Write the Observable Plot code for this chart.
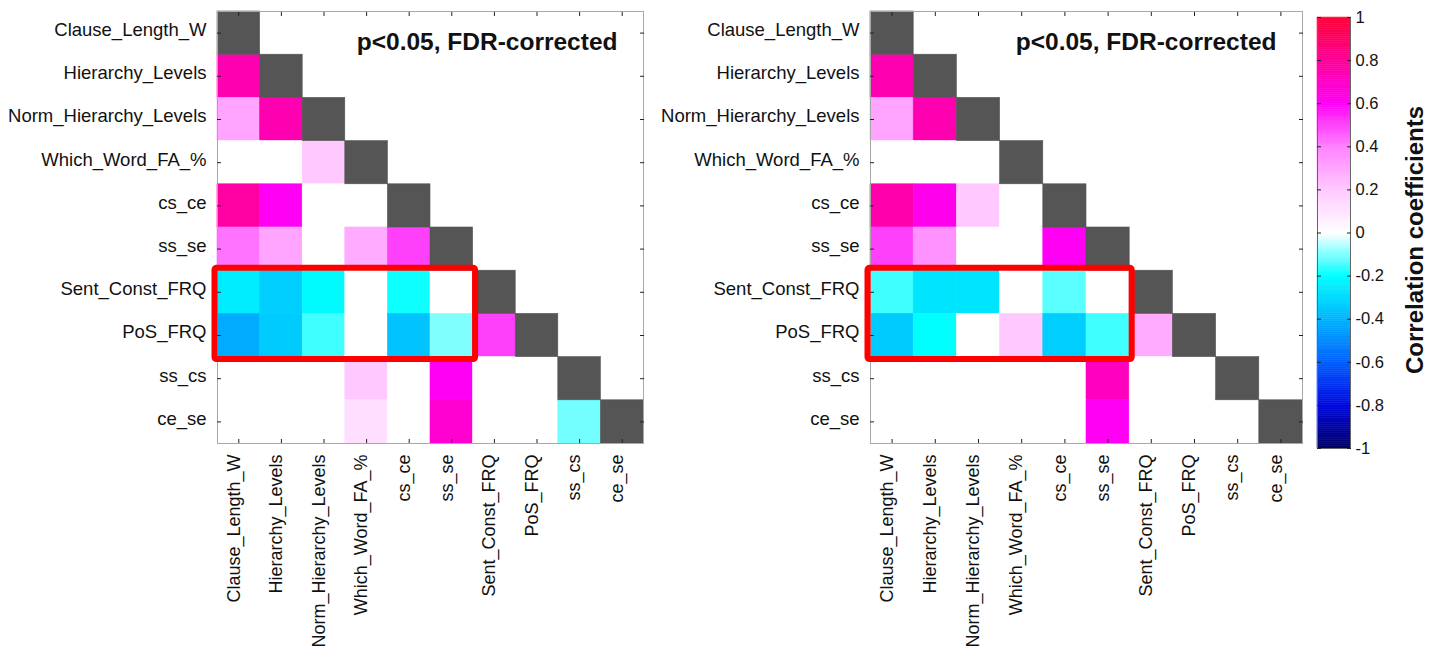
<!DOCTYPE html>
<html>
<head>
<meta charset="utf-8">
<script src="https://cdn.jsdelivr.net/npm/d3@7"></script>
<script src="https://cdn.jsdelivr.net/npm/@observablehq/plot@0.6"></script>
<style>
  body { margin: 0; background: #fff; }
  #wrap { position: relative; width: 1437px; height: 650px; overflow: hidden; font-family: "Liberation Sans", Arial, sans-serif; }
  .panel { position: absolute; top: 0; }
  #cblabel { position: absolute; width: 400px; left: 1215px; top: 225px; text-align: center;
    font: bold 24px "Liberation Sans", Arial, sans-serif; color: #111; transform: rotate(-90deg); transform-origin: 50% 50%; line-height: 30px; }
</style>
</head>
<body>
<div id="wrap">
  <div id="left" class="panel" style="left:0px"></div>
  <div id="right" class="panel" style="left:653px"></div>
  <div id="cbar" class="panel" style="left:1300px"></div>
  <div id="cblabel">Correlation coefficients</div>
</div>
<script>
// Variable names (rows / columns of the matrices)
const vars = ["Clause_Length_W", "Hierarchy_Levels", "Norm_Hierarchy_Levels", "Which_Word_FA_%",
  "cs_ce", "ss_se", "Sent_Const_FRQ", "PoS_FRQ", "ss_cs", "ce_se"];

// Lower-triangle correlation values (row i, columns 0..i-1); 0 = not significant (white)
const leftValues = [
  [],
  [0.75],
  [0.30, 0.75],
  [0, 0, 0.20],
  [0.78, 0.60, 0, 0],
  [0.42, 0.30, 0, 0.28, 0.50],
  [-0.25, -0.33, -0.21, 0, -0.19, 0],
  [-0.42, -0.34, -0.15, 0, -0.36, -0.10, 0.50],
  [0, 0, 0, 0.20, 0, 0.60, 0, 0],
  [0, 0, 0, 0.12, 0, 0.68, 0, 0, -0.11]
];
const rightValues = [
  [],
  [0.75],
  [0.30, 0.75],
  [0, 0, 0],
  [0.76, 0.62, 0.20, 0],
  [0.50, 0.35, 0, 0, 0.60],
  [-0.15, -0.27, -0.27, 0, -0.13, 0],
  [-0.34, -0.20, 0, 0.20, -0.33, -0.15, 0.28],
  [0, 0, 0, 0, 0, 0.72, 0, 0],
  [0, 0, 0, 0, 0, 0.60, 0, 0, 0]
];

// Highlighted block: columns Clause_Length_W..ss_se, rows Sent_Const_FRQ..PoS_FRQ
const highlight = {colFrom: "Clause_Length_W", colTo: "ss_se", rowFrom: "Sent_Const_FRQ", rowTo: "PoS_FRQ"};
const annotation = "p<0.05, FDR-corrected";
const colorbarTicks = [-1, -0.8, -0.6, -0.4, -0.2, 0, 0.2, 0.4, 0.6, 0.8, 1];

// Colormap (cyan-blue negative, pink-red positive)
const cStops = [-1, -0.8, -0.6, -0.4, -0.2, 0, 0.2, 0.4, 0.6, 0.8, 1];
const cColors = ["#000064", "#0008e0", "#0060ff", "#00b4ff", "#00ffff", "#ffffff",
  "#ffc8ff", "#ff80ff", "#ff00f5", "#ff0099", "#ff0033"];
const colorScale = {type: "linear", domain: cStops, range: cColors, interpolate: "rgb", clamp: true};

const FONT = "'Liberation Sans', Arial, sans-serif";
const tickPos = vars.map((_, i) => i + 0.5);
const tickName = t => vars[Math.floor(t)];
const blank = () => "";

function heatmap(values, width, marginRight) {
  const cells = [];
  values.forEach((row, i) => row.forEach((v, j) => cells.push({i, j, v})));
  const diag = vars.map((_, i) => i);
  const box = {
    x1: vars.indexOf(highlight.colFrom), x2: vars.indexOf(highlight.colTo) + 1,
    y1: vars.indexOf(highlight.rowFrom), y2: vars.indexOf(highlight.rowTo) + 1
  };
  return Plot.plot({
    width, height: 650,
    marginLeft: 217, marginRight, marginTop: 11, marginBottom: 207,
    style: {fontFamily: FONT, color: "#111", background: "transparent"},
    x: {domain: [0, 10], label: null, axis: null},
    y: {domain: [0, 10], reverse: true, label: null, axis: null},
    color: colorScale,
    marks: [
      Plot.rect(cells, {x1: d => d.j, x2: d => d.j + 1, y1: d => d.i, y2: d => d.i + 1,
        fill: d => d.v, stroke: d => d.v, strokeWidth: 0.6}),
      Plot.rect(diag, {x1: d => d, x2: d => d + 1, y1: d => d, y2: d => d + 1,
        fill: "#555555", stroke: "#555555", strokeWidth: 0.6}),
      Plot.frame({stroke: "#a8a8a8", strokeWidth: 1}),
      // inward tick marks on all four sides
      Plot.axisX(tickPos, {anchor: "bottom", tickSize: -4, tickFormat: blank, label: null, stroke: "#222"}),
      Plot.axisX(tickPos, {anchor: "top", tickSize: -4, tickFormat: blank, label: null, stroke: "#222"}),
      Plot.axisY(tickPos, {anchor: "left", tickSize: -4, tickFormat: blank, label: null, stroke: "#222"}),
      Plot.axisY(tickPos, {anchor: "right", tickSize: -4, tickFormat: blank, label: null, stroke: "#222"}),
      // labels
      Plot.axisX(tickPos, {anchor: "bottom", tickSize: 0, tickPadding: 11, tickRotate: -90,
        tickFormat: tickName, fontSize: 18, dx: -5, label: null, fill: "#111"}),
      Plot.axisY(tickPos, {anchor: "left", tickSize: 0, tickPadding: 11,
        tickFormat: tickName, fontSize: 18.5, dy: -3, label: null, fill: "#111"}),
      Plot.rect([box], {x1: "x1", x2: "x2", y1: "y1", y2: "y2", fill: "none",
        stroke: "#ff0000", strokeWidth: 6, inset: -2.5, rx: 2}),
      Plot.text([annotation], {frameAnchor: "top-right", lineAnchor: "top", dx: -26, dy: 21,
        fontSize: 24.5, fontWeight: "bold", fill: "#111"})
    ]
  });
}

document.getElementById("left").append(heatmap(leftValues, 650, 7));
document.getElementById("right").append(heatmap(rightValues, 654, 5));

// Colorbar
const step = 0.01;
const ramp = d3.range(-1, 1 - step / 2, step);
const cb = Plot.plot({
  width: 137, height: 650,
  marginLeft: 17, marginRight: 87, marginTop: 17, marginBottom: 202,
  style: {fontFamily: FONT, color: "#111", background: "transparent"},
  x: {domain: [0, 1], axis: null},
  y: {domain: [-1, 1], label: null, axis: null},
  color: colorScale,
  marks: [
    Plot.rect(ramp, {y1: d => d, y2: d => d + step, fill: d => d + step / 2, stroke: d => d + step / 2, strokeWidth: 0.5}),
    Plot.frame({stroke: "#666", strokeWidth: 1}),
    Plot.axisY(colorbarTicks, {anchor: "right", tickSize: -4, tickFormat: blank, label: null, stroke: "#222"}),
    Plot.axisY(colorbarTicks, {anchor: "left", tickSize: -4, tickFormat: blank, label: null, stroke: "#222"}),
    Plot.axisY(colorbarTicks, {anchor: "right", tickSize: 0, tickPadding: 5,
      tickFormat: d => String(+d.toFixed(1)), fontSize: 16.5, label: null, fill: "#111"})
  ]
});
document.getElementById("cbar").append(cb);
</script>
</body>
</html>
